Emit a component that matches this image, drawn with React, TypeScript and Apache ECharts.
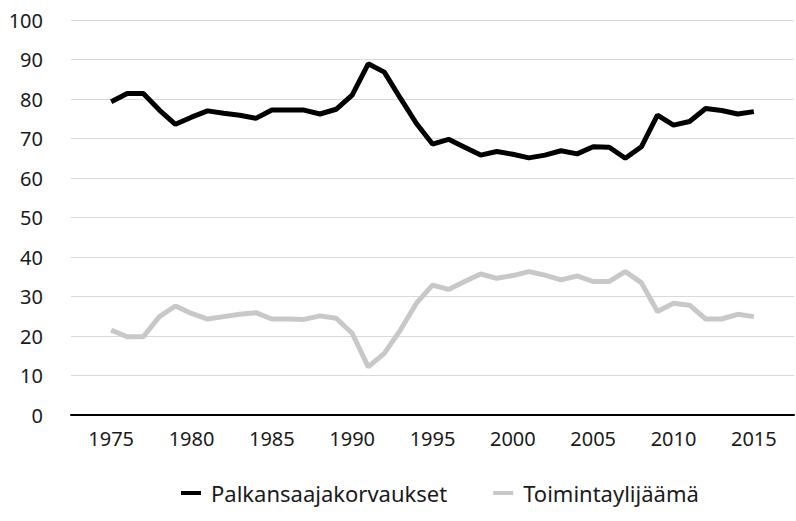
import React, { useEffect, useRef } from "react";
import * as echarts from "echarts";

const years = [
  1975, 1976, 1977, 1978, 1979, 1980, 1981, 1982, 1983, 1984,
  1985, 1986, 1987, 1988, 1989, 1990, 1991, 1992, 1993, 1994,
  1995, 1996, 1997, 1998, 1999, 2000, 2001, 2002, 2003, 2004,
  2005, 2006, 2007, 2008, 2009, 2010, 2011, 2012, 2013, 2014, 2015,
];
const padBefore = ["1973", "1974"];
const padAfter = ["2016", "2017"];

const palkansaajakorvaukset = [
  79.3, 81.4, 81.4, 77.2, 73.6, 75.4, 77.0, 76.4, 75.9, 75.1,
  77.2, 77.2, 77.2, 76.2, 77.4, 81.0, 88.9, 86.8, 80.2, 73.8,
  68.6, 69.8, 67.8, 65.8, 66.7, 66.0, 65.1, 65.8, 66.9, 66.1,
  67.9, 67.8, 65.0, 67.9, 75.9, 73.4, 74.3, 77.6, 77.1, 76.2, 76.8,
];
const toimintaylijaama = [
  21.5, 19.8, 19.8, 24.9, 27.6, 25.7, 24.3, 24.9, 25.5, 25.9,
  24.3, 24.3, 24.2, 25.1, 24.5, 20.7, 12.2, 15.6, 21.5, 28.3,
  32.9, 31.8, 33.8, 35.7, 34.6, 35.3, 36.3, 35.4, 34.2, 35.2,
  33.8, 33.8, 36.3, 33.5, 26.2, 28.3, 27.8, 24.3, 24.3, 25.5, 24.9,
];
const seriesNames = ["Palkansaajakorvaukset", "Toimintaylijäämä"];
const labelYears = ["1975", "1980", "1985", "1990", "1995", "2000", "2005", "2010", "2015"];

const FONT = "'Noto Sans', sans-serif";

export default function App() {
  const ref = useRef<HTMLDivElement>(null);
  useEffect(() => {
    if (!ref.current) return;
    const chart = echarts.init(ref.current, null, { renderer: "svg" });
    const categories = [...padBefore, ...years.map(String), ...padAfter];
    chart.setOption({
      animation: false,
      backgroundColor: "#ffffff",
      textStyle: { fontFamily: FONT },
      grid: { left: 71, right: 2, top: 20, bottom: 106, containLabel: false },
      legend: {
        bottom: 12,
        left: 176,
        itemGap: 46,
        itemWidth: 20,
        itemHeight: 4,
        icon: "rect",
        textStyle: { fontFamily: FONT, fontSize: 22, color: "#1a1a1a", padding: [0, 0, 0, 5] },
        data: seriesNames,
      },
      xAxis: {
        type: "category",
        data: categories,
        boundaryGap: true,
        axisLine: { lineStyle: { color: "#000000", width: 2 } },
        axisTick: { show: false },
        axisLabel: {
          interval: (_i: number, v: string) => labelYears.includes(v),
          fontFamily: FONT,
          fontSize: 20,
          color: "#1a1a1a",
          margin: 13,
        },
        splitLine: { show: false },
      },
      yAxis: {
        type: "value",
        min: 0,
        max: 100,
        interval: 10,
        axisLine: { show: false },
        axisTick: { show: false },
        axisLabel: { fontFamily: FONT, fontSize: 20, color: "#1a1a1a", margin: 28 },
        splitLine: { lineStyle: { color: "#d9d9d9", width: 1 } },
      },
      series: [
        {
          name: seriesNames[0],
          type: "line",
          data: years.map((y, i) => [String(y), palkansaajakorvaukset[i]]),
          showSymbol: false,
          symbol: "none",
          lineStyle: { color: "#000000", width: 5 },
          itemStyle: { color: "#000000" },
        },
        {
          name: seriesNames[1],
          type: "line",
          data: years.map((y, i) => [String(y), toimintaylijaama[i]]),
          showSymbol: false,
          symbol: "none",
          lineStyle: { color: "#c8c8c8", width: 5 },
          itemStyle: { color: "#c8c8c8" },
        },
      ],
    });
    return () => chart.dispose();
  }, []);
  return <div ref={ref} style={{ width: 796, height: 521, position: "absolute", left: 0, top: 0 }} />;
}
